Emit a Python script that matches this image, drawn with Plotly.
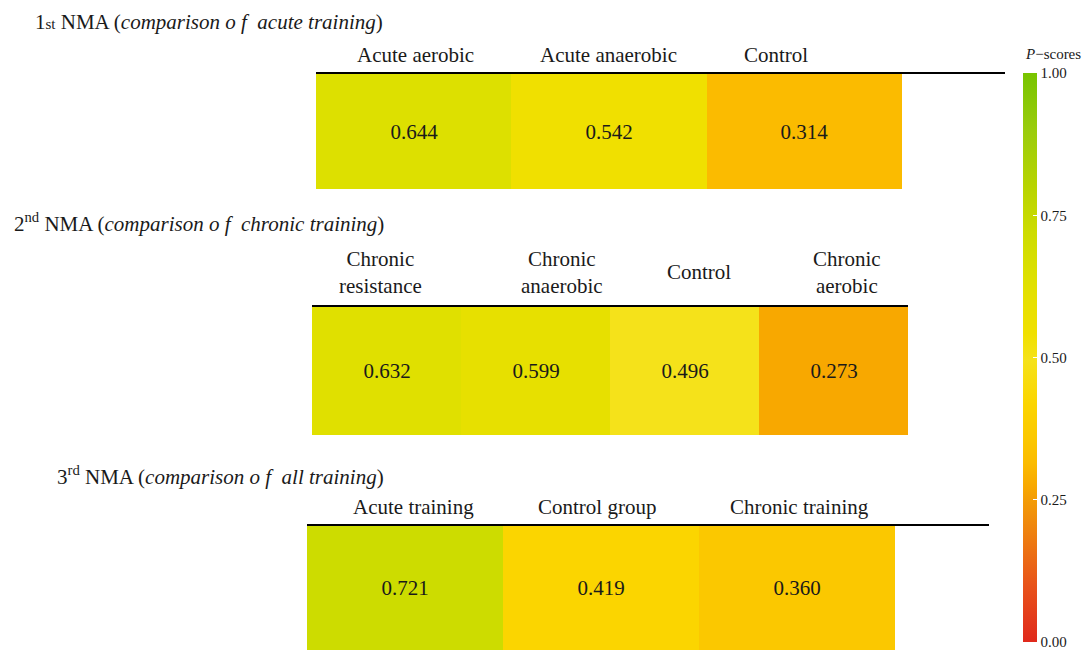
import plotly.graph_objects as go

# P-scores from the three network meta-analyses
acute_labels = ["Acute aerobic", "Acute anaerobic", "Control"]
acute_scores = [0.644, 0.542, 0.314]

chronic_labels = ["Chronic<br>resistance", "Chronic<br>anaerobic", "Control", "Chronic<br>aerobic"]
chronic_scores = [0.632, 0.599, 0.496, 0.273]

all_labels = ["Acute training", "Control group", "Chronic training"]
all_scores = [0.721, 0.419, 0.360]

panel_titles = [
    "1<span style='font-size:15px'>st</span> NMA (<i>comparison o f  acute training</i>)",
    "2<sup>nd</sup> NMA (<i>comparison o f  chronic training</i>)",
    "3<sup>rd</sup> NMA (<i>comparison o f  all training</i>)",
]

colorbar_ticks = [0, 0.25, 0.5, 0.75, 1.0]

W, H = 1085, 650
FONT = "Liberation Serif, DejaVu Serif, serif"
INK = "#1a1a1a"
SIZE = 21

# red -> orange -> yellow -> green scale for P-scores
scale = [
    [0.00, "#e0291c"],
    [0.10, "#e8531a"],
    [0.20, "#ef850e"],
    [0.25, "#f39c06"],
    [0.273, "#f8a800"],
    [0.314, "#fbbb00"],
    [0.36, "#fbc800"],
    [0.419, "#fbd500"],
    [0.496, "#f5e21a"],
    [0.542, "#f0e000"],
    [0.599, "#e7e000"],
    [0.644, "#dde000"],
    [0.721, "#cddc00"],
    [0.80, "#b8d400"],
    [0.90, "#9acc0c"],
    [1.00, "#78c400"],
]


def px_x(v):
    return v / W


def px_y(v):
    return 1 - v / H


fig = go.Figure()

# (labels, scores, x-pixel span of axis, y-pixel span of cells, cell width px,
#  label centre y px, per-label horizontal nudge px)
panels = [
    (acute_labels, acute_scores, (316, 1005), (74, 189), 195.3, 55, [2, 0, -28]),
    (chronic_labels, chronic_scores, (312, 908), (307, 435), 149.0, 272, [-6, 26, 14, 13]),
    (all_labels, all_scores, (307, 989), (526, 650), 196.0, 507, [8, -4, 2]),
]

for i, (labels, scores, (x0, x1), (y0, y1), cw, ly, nudges) in enumerate(panels, start=1):
    n = len(labels)
    xs = list(range(n))
    key = "" if i == 1 else str(i)
    fig.add_trace(go.Heatmap(
        z=[scores],
        x=xs,
        y=[0],
        xaxis=f"x{key}",
        yaxis=f"y{key}",
        coloraxis="coloraxis",
        texttemplate="%{z:.3f}",
        textfont=dict(family=FONT, size=SIZE, color=INK),
        hoverinfo="skip",
        xgap=0, ygap=0,
    ))
    right = -0.5 + (x1 - x0) / cw
    fig.update_layout({
        f"xaxis{key}": dict(
            domain=[px_x(x0), px_x(x1)],
            range=[-0.5, right],
            side="top",
            showticklabels=False,
            ticks="",
            showline=True,
            linecolor="black",
            linewidth=2,
            showgrid=False,
            zeroline=False,
            anchor=f"y{key}",
            fixedrange=True,
        ),
        f"yaxis{key}": dict(
            domain=[max(0, px_y(y1)), px_y(y0)],
            range=[-0.5, 0.5],
            showticklabels=False,
            showgrid=False,
            zeroline=False,
            showline=False,
            anchor=f"x{key}",
            fixedrange=True,
        ),
    })
    # treatment names above each column
    for xv, lab, dx in zip(xs, labels, nudges):
        fig.add_annotation(
            text=lab, x=xv, xref=f"x{key}", y=px_y(ly), yref="paper",
            xanchor="center", yanchor="middle", showarrow=False, xshift=dx,
            font=dict(family=FONT, size=SIZE, color=INK),
        )

# panel headings
title_pos = [(33, 22), (12, 222), (55, 475)]
for text, (tx, ty) in zip(panel_titles, title_pos):
    fig.add_annotation(
        text=text, x=px_x(tx), y=px_y(ty), xref="paper", yref="paper",
        xanchor="left", yanchor="middle", showarrow=False,
        font=dict(family=FONT, size=SIZE, color=INK),
    )

# colour bar heading
fig.add_annotation(
    text="<i>P</i>\u2212scores", x=px_x(1083), y=px_y(54), xref="paper", yref="paper",
    xanchor="right", yanchor="middle", showarrow=False,
    font=dict(family=FONT, size=15, color=INK),
)

fig.update_layout(
    width=W, height=H,
    margin=dict(l=0, r=0, t=0, b=0),
    paper_bgcolor="white",
    plot_bgcolor="white",
    coloraxis=dict(
        colorscale=scale,
        cmin=0, cmax=1,
        colorbar=dict(
            x=px_x(1023), xanchor="left", xpad=0,
            y=px_y(73), yanchor="top", ypad=0,
            len=569, lenmode="pixels",
            thickness=14, thicknessmode="pixels",
            outlinewidth=0,
            tickmode="array",
            tickvals=colorbar_ticks,
            ticktext=[f"{v:.2f}" for v in colorbar_ticks],
            ticklabeloverflow="allow",
            ticks="inside", ticklen=4, tickwidth=1, tickcolor="white",
            tickfont=dict(family=FONT, size=15, color=INK),
        ),
    ),
)

fig.write_html("out.html")
